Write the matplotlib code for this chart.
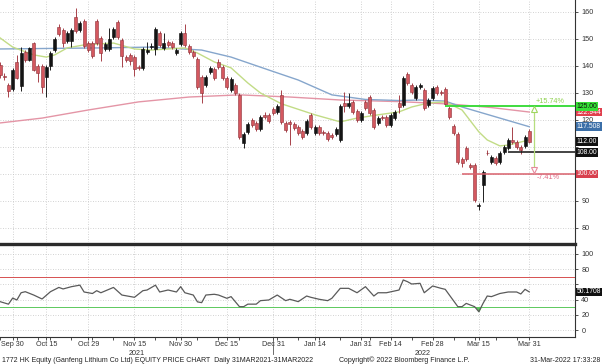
import matplotlib
matplotlib.use('Agg')
import matplotlib.pyplot as plt
import matplotlib.transforms as mtransforms
from matplotlib.lines import Line2D
import numpy as np
import pandas as pd

# Sesiones de la bolsa de HK (festivos y cierre por tifon del 13 oct fuera)
festivos = ['2021-10-01', '2021-10-13', '2021-10-14', '2021-12-27',
            '2022-02-01', '2022-02-02', '2022-02-03']
fechas = pd.bdate_range('2021-09-27', '2022-03-31').drop(pd.to_datetime(festivos))

# Velas diarias
aperturas = [140.4, 136.0, 132.9, 131.5, 141.5, 132.6, 145.2, 142.2, 148.5, 140.0,
             140.0, 135.9, 140.0, 145.9, 154.4, 153.3, 149.3, 149.3, 158.1, 153.3,
             156.7, 148.5, 148.5, 156.7, 150.4, 146.3, 146.3, 150.7, 156.3, 149.6,
             143.3, 144.1, 143.3, 139.6, 139.3, 145.2, 147.0, 146.3, 152.2, 146.7,
             148.9, 148.5, 144.8, 148.1, 152.2, 147.4, 145.2, 142.6, 135.9, 132.9,
             137.8, 138.9, 141.5, 139.6, 135.5, 131.1, 132.9, 129.3, 111.5, 115.6,
             120.0, 118.9, 116.7, 121.9, 121.9, 124.1, 123.0, 129.3, 118.9, 119.2,
             118.5, 117.4, 115.9, 115.2, 121.9, 115.2, 117.4, 115.6, 115.2, 114.4,
             114.8, 112.6, 126.3, 125.2, 126.7, 123.3, 120.0, 126.7, 128.5, 123.7,
             118.9, 121.1, 121.1, 118.1, 120.7, 126.3, 125.6, 137.0, 132.9, 128.1,
             132.2, 131.1, 125.6, 128.1, 132.2, 130.4, 131.5, 124.4, 117.8, 114.8,
             105.6, 109.6, 103.3, 103.3, 88.1, 95.9, 107.9, 104.4, 105.9, 104.4,
             108.1, 109.6, 112.6, 111.8, 110.0, 110.4, 115.9]
maximos = [141.5, 137.4, 133.7, 139.3, 144.1, 147.0, 146.0, 147.0, 149.0, 140.8,
           140.8, 140.2, 145.5, 150.8, 155.6, 154.0, 153.0, 154.0, 161.5, 156.6,
           157.4, 149.3, 149.3, 157.4, 151.1, 148.9, 154.1, 154.4, 157.0, 150.4,
           144.0, 144.8, 144.0, 140.3, 147.0, 148.9, 148.5, 154.4, 153.0, 152.2,
           149.6, 149.3, 146.6, 153.0, 155.6, 148.1, 145.9, 143.3, 136.6, 136.6,
           140.0, 139.6, 142.6, 140.3, 136.2, 135.9, 133.6, 130.0, 115.5, 119.2,
           120.7, 119.6, 121.8, 123.0, 122.6, 124.8, 125.9, 131.1, 119.6, 120.0,
           119.2, 118.1, 116.6, 120.3, 122.6, 118.1, 118.1, 116.3, 115.9, 115.1,
           117.4, 125.9, 130.4, 130.0, 127.4, 124.0, 123.3, 127.4, 129.2, 124.4,
           121.4, 121.8, 121.8, 122.6, 123.7, 129.3, 136.2, 137.7, 133.6, 132.9,
           133.6, 131.8, 128.1, 132.6, 132.9, 131.1, 132.2, 125.1, 118.5, 115.5,
           106.3, 110.3, 104.0, 104.0, 89.2, 101.4, 108.7, 107.0, 106.6, 108.5,
           110.7, 113.3, 117.4, 112.5, 110.7, 114.4, 116.6]
minimos = [135.5, 134.8, 128.5, 130.7, 135.0, 130.7, 141.5, 141.8, 138.0, 134.1,
           130.0, 128.5, 138.5, 145.2, 151.2, 147.0, 148.6, 147.0, 152.2, 152.6,
           146.7, 145.2, 143.0, 147.8, 141.8, 145.6, 145.6, 150.0, 150.0, 139.6,
           141.5, 140.4, 136.3, 138.6, 138.6, 144.5, 146.3, 144.1, 147.0, 146.0,
           147.0, 146.3, 144.1, 147.4, 147.0, 144.5, 143.0, 131.5, 126.3, 132.2,
           137.0, 134.8, 138.9, 134.8, 131.5, 130.4, 129.3, 113.0, 109.6, 114.9,
           117.4, 116.0, 116.0, 120.4, 118.9, 121.9, 122.3, 118.5, 115.6, 110.7,
           116.3, 114.5, 113.0, 114.5, 116.7, 114.5, 114.5, 114.5, 112.2, 113.0,
           114.1, 111.9, 123.0, 124.5, 122.3, 119.3, 119.3, 123.7, 121.9, 116.7,
           118.2, 120.0, 117.4, 117.4, 120.0, 122.6, 124.9, 133.0, 129.7, 127.4,
           131.5, 123.7, 124.9, 127.4, 129.3, 129.3, 125.2, 120.4, 114.5, 103.7,
           102.6, 104.9, 101.9, 89.7, 86.7, 89.5, 106.9, 103.7, 103.4, 103.7,
           107.4, 108.9, 111.1, 109.3, 107.4, 109.7, 111.3]
cierres = [136.7, 135.9, 130.7, 138.5, 135.5, 144.8, 142.2, 146.7, 138.5, 137.4,
           132.2, 139.6, 144.8, 150.0, 151.9, 148.5, 152.2, 153.3, 153.0, 155.9,
           147.4, 145.9, 143.7, 148.5, 144.8, 148.1, 150.0, 153.7, 150.7, 143.7,
           142.2, 141.8, 138.9, 139.3, 146.3, 145.9, 147.4, 153.7, 147.8, 148.5,
           147.8, 147.0, 145.9, 152.2, 147.8, 145.2, 143.7, 132.2, 130.0, 135.9,
           139.3, 135.5, 139.6, 135.5, 132.2, 135.2, 130.0, 113.7, 114.8, 118.5,
           118.1, 116.7, 121.1, 121.1, 119.6, 122.6, 125.2, 119.2, 116.3, 118.5,
           117.0, 115.2, 113.7, 119.6, 117.4, 117.4, 115.2, 115.2, 112.9, 113.7,
           116.7, 125.2, 125.2, 126.3, 123.0, 120.0, 122.6, 124.4, 122.6, 117.4,
           120.7, 120.7, 118.1, 121.9, 123.0, 124.8, 135.5, 133.7, 130.4, 132.2,
           132.9, 124.4, 127.4, 131.9, 130.0, 130.1, 125.9, 121.1, 115.2, 104.4,
           104.1, 105.6, 102.6, 90.4, 88.5, 100.7, 107.6, 106.3, 104.1, 107.8,
           110.0, 112.6, 111.8, 110.0, 108.9, 113.7, 112.0]

ma_corta_idx = [0, 3, 8, 11, 13, 16, 20, 27, 32, 36, 44, 47, 51, 55, 59, 62, 67, 75,
                81, 85, 90, 95, 98, 102, 106, 110, 114, 116, 119, 121, 126]
ma_corta = [150.4, 147.0, 144.1, 143.3, 144.1, 146.7, 147.8, 148.5, 146.3, 145.9,
            146.7, 144.8, 141.5, 139.3, 133.7, 130.0, 126.0, 121.9, 119.3, 120.7,
            121.9, 123.0, 124.8, 126.3, 126.7, 123.7, 115.6, 112.6, 110.4, 110.7, 112.6]
ma_media_idx = [0, 12, 24, 36, 48, 55, 64, 71, 79, 87, 95, 100, 106, 110, 119, 126]
ma_media = [146.3, 146.5, 146.7, 147.0, 145.9, 143.3, 138.5, 134.8, 129.3, 127.6,
            127.2, 127.4, 127.0, 124.8, 120.7, 117.508]
ma_larga_idx = [0, 10, 21, 33, 45, 57, 69, 81, 95, 102, 108, 117, 126]
ma_larga = [118.9, 120.7, 123.7, 126.7, 128.5, 129.3, 128.5, 127.4, 126.8, 126.3,
            125.8, 124.6, 122.944]

rsi_idx = [0, 2, 3, 4, 5, 6, 8, 10, 12, 14, 15, 17, 19, 20, 22, 23, 24, 27, 29, 32,
           34, 35, 37, 38, 40, 42, 43, 44, 46, 47, 48, 49, 51, 52, 54, 55, 57, 58, 59,
           61, 62, 64, 66, 68, 69, 71, 73, 74, 76, 78, 79, 81, 83, 85, 87, 89, 90, 92,
           95, 96, 97, 98, 100, 101, 103, 105, 106, 109, 110, 111, 113, 114, 115, 116,
           117, 119, 121, 123, 124, 125, 126]
rsi = [37.3, 34.0, 42.0, 39.5, 49.0, 50.4, 46.0, 40.8, 50.4, 56.0, 54.0, 57.0, 59.0,
       50.0, 48.0, 51.7, 49.0, 56.0, 46.0, 43.0, 51.7, 52.6, 59.0, 50.0, 52.6, 50.0,
       57.0, 49.0, 46.0, 37.0, 36.0, 46.0, 47.0, 46.0, 41.7, 43.9, 30.7, 30.7, 34.0,
       34.0, 38.6, 39.5, 46.0, 38.6, 40.4, 37.3, 44.7, 43.0, 40.4, 38.6, 41.7, 54.8,
       54.8, 49.0, 57.0, 44.7, 49.0, 49.0, 52.6, 65.8, 63.6, 60.5, 61.4, 49.0, 57.9,
       54.8, 53.5, 30.7, 30.7, 35.0, 30.7, 24.0, 35.0, 44.7, 43.9, 48.0, 50.0, 50.0,
       47.4, 53.5, 50.1708]

# Niveles marcados y etiquetas del eje derecho
nivel_alto = 125.0
nivel_base = 108.0
nivel_bajo = 100.0

etiquetas_x = ['2021-09-30', '2021-10-15', '2021-10-29', '2021-11-15', '2021-11-30',
               '2021-12-15', '2021-12-31', '2022-01-14', '2022-01-31', '2022-02-14',
               '2022-02-28', '2022-03-15', '2022-03-31']

plt.rcParams['font.family'] = ['Liberation Sans Narrow', 'Liberation Sans', 'DejaVu Sans']
fs = 5.2

fig = plt.figure(figsize=(6.02, 3.64), dpi=100)
ax = fig.add_axes([0, 1 - 242 / 364, 575 / 602, 242 / 364])
ax2 = fig.add_axes([0, 1 - 337 / 364, 575 / 602, 92 / 364], sharex=ax)

x = np.arange(len(fechas))
o = np.array(aperturas)
c = np.array(cierres)
sube = c >= o

# Velas
ax.vlines(x, minimos, maximos, colors=np.where(sube, '#1e1e1e', '#a8424a'), lw=0.7, zorder=3)
ax.bar(x, np.maximum(np.abs(c - o), 0.25), bottom=np.minimum(o, c), width=0.72,
       color=np.where(sube, '#141414', '#d4585f'),
       edgecolor=np.where(sube, '#0a0a0a', '#8c3038'), lw=0.4, zorder=4)

# Medias moviles
ax.plot(ma_larga_idx, ma_larga, color='#e495a6', lw=1.0, zorder=2)
ax.plot(ma_media_idx, ma_media, color='#86a6cc', lw=1.0, zorder=2)
ax.plot(ma_corta_idx, ma_corta, color='#c2dc86', lw=1.0, zorder=2)

# Lineas horizontales de niveles
ax.hlines(nivel_alto, 106, 140, color='#3fdc3f', lw=1.4, zorder=5)
ax.hlines(nivel_bajo, 110, 140, color='#d8606c', lw=1.1, zorder=5)
ax.hlines(nivel_base, 121, 140, color='#111111', lw=1.1, zorder=5)

# Medicion de subida / bajada
xm = 127.2
ax.vlines(xm, nivel_bajo + 1.3, nivel_alto - 1.0, color='#b6de7e', lw=0.9, zorder=6)
ax.plot(xm, nivel_alto - 1.0, marker='^', ms=4, mfc='white', mec='#9fd65f', mew=0.8, zorder=7)
ax.plot(xm, nivel_bajo + 1.3, marker='v', ms=4, mfc='white', mec='#e68a9c', mew=0.8, zorder=7)
ax.text(xm + 0.3, nivel_alto + 0.6, '+%.2f%%' % ((nivel_alto / nivel_base - 1) * 100),
        color='#8fd14f', fontsize=fs, ha='left', va='bottom', zorder=7)
ax.text(xm + 0.5, nivel_bajo - 1.4, '%.2f%%' % ((nivel_bajo / nivel_base - 1) * 100),
        color='#e06a84', fontsize=fs, ha='left', va='center', zorder=7)

# Eje y panel de precios
ax.set_xlim(-0.02, 136.9)
ax.set_ylim(74.8, 164.44)
ticks_precio = np.arange(80, 161, 10)
ax.set_yticks(ticks_precio)
# 100 y 110 quedan tapados por las etiquetas de nivel
ax.set_yticklabels(['' if t in (100, 110) else str(t) for t in ticks_precio])
ax.yaxis.tick_right()
ax.tick_params(axis='y', direction='out', length=2.5, width=0.6, pad=2, labelsize=fs,
               colors='#333333')
ax.tick_params(axis='x', which='both', bottom=False, labelbottom=False)
ax.grid(True, ls=(0, (1, 2)), color='#c4c4c4', lw=0.6)
for lado in ['left', 'top', 'bottom']:
    ax.spines[lado].set_visible(False)
ax.spines['right'].set_color('#333333')
ax.spines['right'].set_linewidth(0.8)


def etiqueta(eje, valor, texto, fondo, letra='white'):
    eje.text(1.003, valor, texto, transform=eje.get_yaxis_transform(), ha='left',
             va='center', fontsize=4.9, color=letra, clip_on=False, zorder=10,
             bbox=dict(boxstyle='square,pad=0.12', fc=fondo, ec='none'))


etiqueta(ax, ma_larga[-1], '%.3f' % ma_larga[-1], '#e0404e')
etiqueta(ax, nivel_alto, '%.2f' % nivel_alto, '#35e035', '#111111')
etiqueta(ax, ma_media[-1], '%.3f' % ma_media[-1], '#3b6fa8')
etiqueta(ax, cierres[-1], '%.2f' % cierres[-1], '#111111')
etiqueta(ax, nivel_base, '%.2f' % nivel_base, '#111111')
etiqueta(ax, nivel_bajo, '%.2f' % nivel_bajo, '#d8404e')

# Panel RSI
rsi_arr = np.array(rsi)
ax2.plot(rsi_idx, rsi, color='#5a5a5a', lw=0.9, zorder=4)
ax2.fill_between(rsi_idx, rsi_arr, 30, where=rsi_arr < 30, interpolate=True,
                 color='#5cc95c', lw=0, zorder=3)
ax2.axhline(70, color='#d65050', lw=0.7, zorder=2)
ax2.axhline(30, color='#5cc95c', lw=0.7, zorder=2)
ax2.set_ylim(-9.2, 111.8)
ax2.set_yticks([0, 20, 40, 60, 80, 100])
ax2.set_yticklabels(['0', '20', '40', '', '80', '100'])
ax2.yaxis.tick_right()
ax2.tick_params(axis='y', direction='out', length=2.5, width=0.6, pad=2, labelsize=fs,
                colors='#333333')
ax2.grid(True, ls=(0, (1, 2)), color='#c4c4c4', lw=0.6)
for lado in ['left', 'top']:
    ax2.spines[lado].set_visible(False)
for lado in ['right', 'bottom']:
    ax2.spines[lado].set_color('#333333')
    ax2.spines[lado].set_linewidth(0.8)
etiqueta(ax2, rsi[-1], '%.4f' % rsi[-1], '#111111')

pos = [fechas.get_loc(pd.Timestamp(d)) for d in etiquetas_x]
ax2.set_xticks(pos)
ax2.set_xticklabels([pd.Timestamp(d).strftime('%b %d').replace(' 0', ' ') for d in etiquetas_x])
lunes = [i for i, f in enumerate(fechas) if f.weekday() == 0]
ax2.set_xticks(lunes, minor=True)
ax2.tick_params(axis='x', which='both', direction='out', length=2, width=0.6, pad=1.2,
                labelsize=fs, colors='#333333')

trans = mtransforms.blended_transform_factory(ax2.transData, ax2.transAxes)
ax2.text(32.6, -0.175, '2021', transform=trans, fontsize=fs, ha='center', va='center', color='#333333')
ax2.text(100.7, -0.175, '2022', transform=trans, fontsize=fs, ha='center', va='center', color='#333333')
fin_anio = fechas.get_loc(pd.Timestamp('2021-12-31'))
ax2.plot([fin_anio, fin_anio], [-0.03, -0.19], transform=trans, color='#555555', lw=0.6,
         clip_on=False)

# Separador entre paneles
fig.add_artist(Line2D([0, 575 / 602], [1 - 243.5 / 364] * 2, color='#2b2b2b', lw=2.4))

# Pie
yp = 1 - 360 / 364
fig.text(0.004, yp, '1772 HK Equity (Ganfeng Lithium Co Ltd) EQUITY PRICE CHART  Daily 31MAR2021-31MAR2022',
         fontsize=5.0, va='center', color='#222222')
fig.text(404 / 602, yp, 'Copyright\u00a9 2022 Bloomberg Finance L.P.', fontsize=5.0,
         va='center', ha='center', color='#222222')
fig.text(0.997, yp, '31-Mar-2022 17:33:28', fontsize=5.0, va='center', ha='right', color='#222222')

fig.savefig('out.png', dpi=100, facecolor='white')
